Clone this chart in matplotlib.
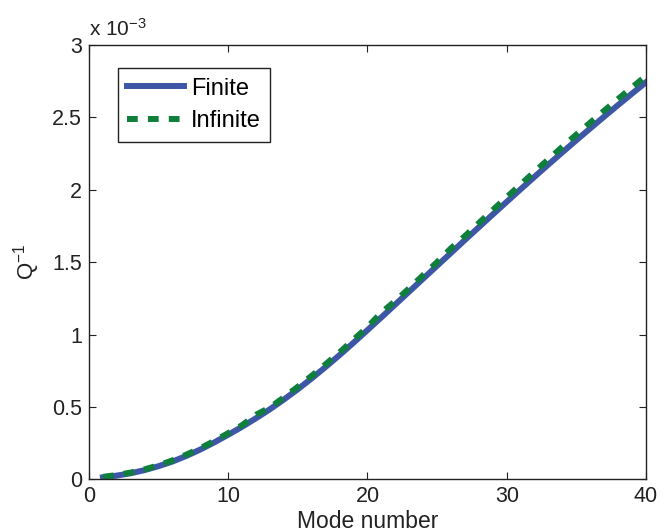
import numpy as np
import matplotlib
matplotlib.use('Agg')
import matplotlib.pyplot as plt
import matplotlib.ticker as mticker

plt.rcParams['font.family'] = ['Liberation Sans', 'DejaVu Sans']
plt.rcParams['mathtext.fontset'] = 'custom'
plt.rcParams['mathtext.rm'] = 'Liberation Sans'
plt.rcParams['mathtext.it'] = 'Liberation Sans'

# mode numbers and Q^-1 values (in units of 1e-3)
modes = np.arange(1, 41)
finite = np.array([0.015, 0.027, 0.043, 0.065, 0.092, 0.124, 0.163, 0.207, 0.256, 0.309,
                   0.364, 0.423, 0.485, 0.552, 0.623, 0.698, 0.777, 0.859, 0.944, 1.031,
                   1.119, 1.208, 1.297, 1.386, 1.475, 1.564, 1.653, 1.741, 1.829, 1.916,
                   2.003, 2.089, 2.174, 2.258, 2.341, 2.423, 2.504, 2.584, 2.663, 2.741])
infinite = np.array([0.018, 0.031, 0.048, 0.070, 0.098, 0.132, 0.172, 0.216, 0.266, 0.320,
                     0.375, 0.447, 0.497, 0.567, 0.640, 0.716, 0.796, 0.878, 0.965, 1.052,
                     1.152, 1.232, 1.320, 1.410, 1.500, 1.596, 1.680, 1.770, 1.860, 1.948,
                     2.036, 2.124, 2.210, 2.296, 2.380, 2.463, 2.545, 2.626, 2.706, 2.785])
scale = 1e-3

xticks = [0, 10, 20, 30, 40]
yticks = [0, 0.5, 1, 1.5, 2, 2.5, 3]

fig = plt.figure(figsize=(6.66, 5.32), dpi=100)
ax = fig.add_axes([0.1336, 0.0987, 0.8364, 0.8173])

ax.plot(modes, finite * scale, color='#3d57a6', linewidth=4.3, label='Finite')
ax.plot(modes, infinite * scale, color='#0f7f3c', linewidth=4.3,
        linestyle=(0, (1.8, 1.7)), label='Infinite')

ax.set_xlim(0, 40)
ax.set_ylim(0, 3 * scale)
ax.set_xticks(xticks)
ax.set_yticks([v * scale for v in yticks])
ax.yaxis.set_major_formatter(mticker.FuncFormatter(lambda v, p: '%g' % round(v / scale, 3)))

ax.tick_params(direction='in', top=True, right=True, length=5, width=0.8,
               labelsize=15.5, pad=5, colors='#222222')
for s in ax.spines.values():
    s.set_linewidth(1.0)
    s.set_color('#222222')

ax.text(0.0, 1.012, r'x 10$^{-3}$', transform=ax.transAxes, fontsize=15,
        ha='left', va='bottom', color='#222222')

ax.set_xlabel('Mode number', fontsize=16.5, color='#222222')
ax.xaxis.set_label_coords(0.5, -0.07)
ax.set_ylabel(r'Q$^{-1}$', fontsize=16, color='#222222')
ax.yaxis.set_label_coords(-0.085, 0.5)

leg = ax.legend(loc='upper left', bbox_to_anchor=(0.052, 0.946), fontsize=17,
                handlelength=2.4, handletextpad=0.3, borderpad=0.4,
                labelspacing=0.45, fancybox=False, framealpha=1,
                borderaxespad=0)
leg.get_frame().set_edgecolor('#222222')
leg.get_frame().set_linewidth(1.0)

fig.savefig('out.png', dpi=100)
